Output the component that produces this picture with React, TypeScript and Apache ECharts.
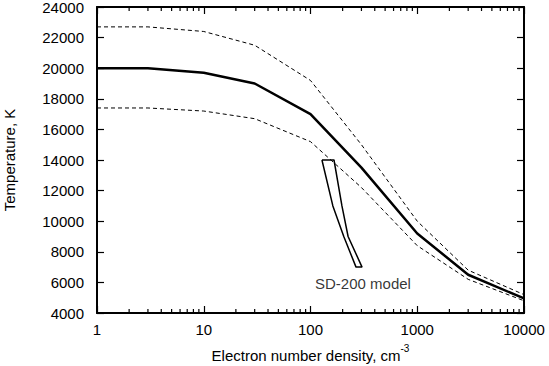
import React, { useEffect, useRef } from "react";
import * as echarts from "echarts";

const densities = [1, 3, 10, 30, 100, 300, 1000, 3000, 10000];
const tempMain = [20000, 20000, 19700, 19000, 17000, 13500, 9200, 6500, 4950];
const tempUpper = [22700, 22700, 22400, 21500, 19200, 15000, 10000, 6800, 5200];
const tempLower = [17400, 17400, 17200, 16700, 15200, 12200, 8400, 6200, 4800];

const sdModelX = [128, 166, 197, 225, 304, 267, 205, 162, 128];
const sdModelY = [14000, 14000, 11000, 9000, 7000, 7000, 9000, 11000, 14000];
const sdLabel = "SD-200 model";
const sdLabelPos = [310, 5950];

const minorTicks = [2, 3, 4, 5, 6, 7, 8, 9, 20, 30, 40, 50, 60, 70, 80, 90, 200, 300, 400, 500, 600, 700, 800, 900, 2000, 3000, 4000, 5000, 6000, 7000, 8000, 9000];

const X_MIN = 1, X_MAX = 10000, Y_MIN = 4000, Y_MAX = 24000, Y_STEP = 2000;
const FONT = "Liberation Sans, Arial, Helvetica, sans-serif";

export default function App() {
  const ref = useRef<HTMLDivElement>(null);
  useEffect(() => {
    if (!ref.current) return;
    const chart = echarts.init(ref.current, null, { renderer: "svg" });
    const zip = (xs: number[], ys: number[]) => xs.map((x, i) => [x, ys[i]]);
    const axisLine = { show: true, onZero: false, lineStyle: { color: "#000", width: 2 } };
    const tick = { show: true, inside: true, length: 7, lineStyle: { color: "#000", width: 1.2 } };
    const plain = (v: number) => String(Math.round(v));
    chart.setOption({
      animation: false,
      backgroundColor: "#fff",
      textStyle: { fontFamily: FONT },
      grid: { left: 97, right: 25, top: 7, bottom: 53, containLabel: false, outerBoundsMode: "none" },
      xAxis: [
        {
          type: "log", logBase: 10, min: X_MIN, max: X_MAX, position: "bottom",
          axisLine, axisTick: tick, splitLine: { show: false },
          axisLabel: { color: "#000", fontSize: 15, margin: 9, fontFamily: FONT, formatter: plain },
          name: "{t|Electron number density, cm}{s|-3}",
          nameLocation: "middle", nameGap: 30,
          nameTextStyle: {
            rich: {
              t: { color: "#000", fontSize: 15, fontFamily: FONT, lineHeight: 20, verticalAlign: "bottom" },
              s: { color: "#000", fontSize: 10, fontFamily: FONT, lineHeight: 10, verticalAlign: "top" },
            },
          },
        },
        {
          type: "log", logBase: 10, min: X_MIN, max: X_MAX, position: "top",
          axisLine, axisTick: tick, splitLine: { show: false }, axisLabel: { show: false },
        },
      ],
      yAxis: [
        {
          type: "value", min: Y_MIN, max: Y_MAX, interval: Y_STEP, position: "left",
          axisLine, axisTick: tick, splitLine: { show: false },
          axisLabel: { color: "#000", fontSize: 15, lineHeight: 14, margin: 13, fontFamily: FONT, formatter: plain },
          name: "Temperature, K", nameLocation: "middle", nameGap: 80,
          nameTextStyle: { color: "#000", fontSize: 15, fontFamily: FONT },
        },
        {
          type: "value", min: Y_MIN, max: Y_MAX, interval: Y_STEP, position: "right",
          axisLine, axisTick: tick, splitLine: { show: false }, axisLabel: { show: false },
        },
      ],
      series: [
        {
          type: "line", data: zip(densities, tempUpper), symbol: "none",
          lineStyle: { color: "#000", width: 1, type: [4, 3] },
        },
        {
          type: "line", data: zip(densities, tempLower), symbol: "none",
          lineStyle: { color: "#000", width: 1, type: [4, 3] },
        },
        {
          type: "line", data: zip(densities, tempMain), symbol: "none",
          lineStyle: { color: "#000", width: 2.5 },
        },
        {
          type: "line", data: zip(sdModelX, sdModelY), symbol: "none",
          lineStyle: { color: "#000", width: 1.5 },
        },
        {
          type: "scatter", data: [sdLabelPos], symbolSize: 0,
          label: { show: true, position: "inside", formatter: sdLabel, color: "#000", fontSize: 15, fontFamily: FONT },
        },
        {
          type: "custom", data: minorTicks.map((v) => [v, Y_MIN]), clip: false, z: 10,
          renderItem: (params: any, api: any) => {
            const v = api.value(0);
            const b = api.coord([v, Y_MIN]);
            const t = api.coord([v, Y_MAX]);
            const style = { stroke: "#000", lineWidth: 1.2, fill: null };
            return {
              type: "group",
              children: [
                { type: "line", shape: { x1: b[0], y1: b[1], x2: b[0], y2: b[1] - 4 }, style },
                { type: "line", shape: { x1: t[0], y1: t[1], x2: t[0], y2: t[1] + 4 }, style },
              ],
            };
          },
        },
      ],
    });
    return () => chart.dispose();
  }, []);
  return <div ref={ref} style={{ width: 549, height: 366, position: "absolute", left: 0, top: 0 }} />;
}
